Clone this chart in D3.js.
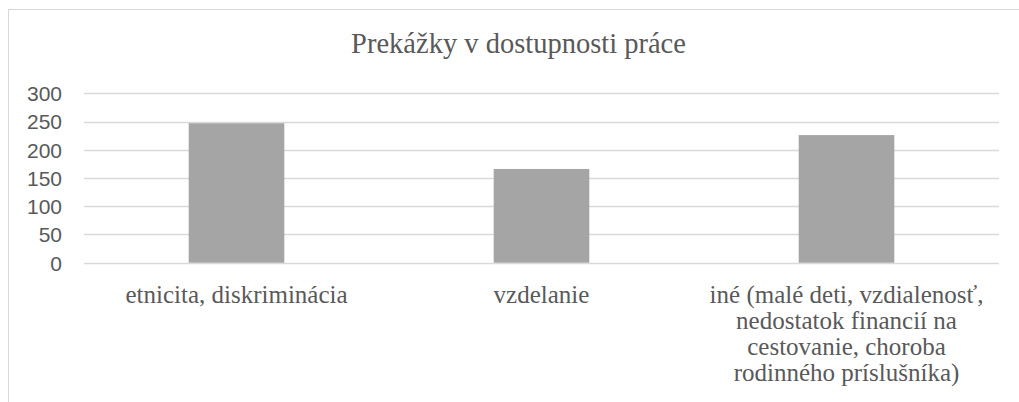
<!DOCTYPE html>
<html>
<head>
<meta charset="utf-8">
<script src="https://cdn.jsdelivr.net/npm/d3@7"></script>
<style>
  html, body { margin: 0; padding: 0; background: #fff; }
  svg { display: block; }
</style>
</head>
<body>
<svg id="chart" width="1019" height="402"></svg>
<script>
const title = "Prekážky v dostupnosti práce";
const categories = [
  "etnicita, diskriminácia",
  "vzdelanie",
  "iné (malé deti, vzdialenosť, nedostatok financií na cestovanie, choroba rodinného príslušníka)"
];
const values = [247, 166, 226];
const yTicks = [0, 50, 100, 150, 200, 250, 300];

const W = 1019, H = 402;
const margin = { left: 84, right: 20, top: 93.3, bottom: 139.3 };
const svg = d3.select("#chart");

// chart frame (clipped by window on right/bottom)
svg.append("rect")
  .attr("x", 8.5).attr("y", 9.5)
  .attr("width", 1100).attr("height", 500)
  .attr("fill", "#fff").attr("stroke", "#d9d9d9").attr("stroke-width", 1);

const x = d3.scaleBand().domain(categories).range([84, 999]).paddingInner(0).paddingOuter(0);
const y = d3.scaleLinear().domain([0, 300]).range([262.7, 93.3]);

// gridlines
svg.append("g").selectAll("line").data(yTicks).join("line")
  .attr("x1", 84).attr("x2", 999)
  .attr("y1", d => Math.round(y(d)) + 0.5).attr("y2", d => Math.round(y(d)) + 0.5)
  .attr("stroke", "#d9d9d9").attr("stroke-width", 1.5);

// y tick labels via axis
const yAxis = d3.axisLeft(y).tickValues(yTicks).tickSize(0).tickPadding(0);
const yg = svg.append("g").attr("transform", "translate(62,0)").call(yAxis);
yg.select(".domain").remove();
yg.selectAll("text")
  .attr("font-family", "'Liberation Sans', Arial, sans-serif")
  .attr("font-size", 21).attr("fill", "#595959").attr("dy", "0.35em");

// bars
const barW = x.bandwidth() / 3.19;
svg.append("g").selectAll("rect").data(values).join("rect")
  .attr("x", (d, i) => x(categories[i]) + (x.bandwidth() - barW) / 2)
  .attr("y", d => y(d))
  .attr("width", barW)
  .attr("height", d => y(0) - y(d))
  .attr("fill", "#a5a5a5");

// category labels with wrapping
const labG = svg.append("g");
categories.forEach((c, i) => {
  const cx = x(c) + x.bandwidth() / 2;
  const t = labG.append("text")
    .attr("x", cx).attr("y", 303)
    .attr("text-anchor", "middle")
    .attr("font-family", "'Liberation Serif', 'Times New Roman', serif")
    .attr("font-size", 25).attr("fill", "#595959");
  const words = c.split(" ");
  let line = [], lineNo = 0;
  let ts = t.append("tspan").attr("x", cx).attr("y", 303);
  words.forEach(w => {
    line.push(w);
    ts.text(line.join(" "));
    if (ts.node().getComputedTextLength() > 295 && line.length > 1) {
      line.pop();
      ts.text(line.join(" "));
      line = [w];
      lineNo++;
      ts = t.append("tspan").attr("x", cx).attr("y", 303 + lineNo * 26).text(w);
    }
  });
});

// title
svg.append("text")
  .attr("x", 518.5).attr("y", 53)
  .attr("text-anchor", "middle")
  .attr("font-family", "'Liberation Serif', 'Times New Roman', serif")
  .attr("font-size", 28.5).attr("fill", "#595959")
  .text(title);
</script>
</body>
</html>
